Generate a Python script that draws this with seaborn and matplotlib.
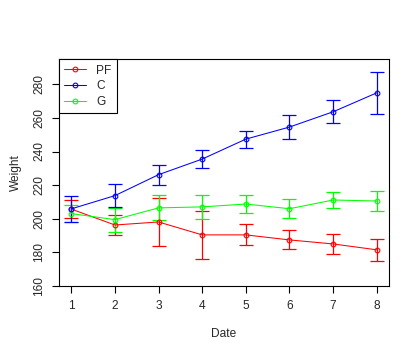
import numpy as np
import pandas as pd
import matplotlib
matplotlib.use('Agg')
import matplotlib.pyplot as plt
import seaborn as sns

dates = [1, 2, 3, 4, 5, 6, 7, 8]
groups = ['PF', 'C', 'G']
colors = {'PF': '#ff0000', 'C': '#0000ff', 'G': '#00ff00'}

pf_mean = [205.7, 196.2, 198.0, 190.3, 190.3, 187.3, 184.9, 181.4]
pf_err = [5.3, 5.9, 14.3, 14.4, 6.2, 5.7, 5.9, 6.5]
c_mean = [205.8, 213.7, 226.2, 235.5, 247.4, 254.6, 263.7, 275.0]
c_err = [7.9, 6.7, 6.0, 5.4, 5.1, 7.4, 6.8, 12.7]
g_mean = [203.0, 199.4, 206.4, 207.0, 208.7, 205.9, 211.1, 210.5]
g_err = [5.1, 7.1, 7.4, 7.1, 5.5, 5.6, 5.0, 5.8]

df = pd.DataFrame({
    'Date': dates * 3,
    'Weight': pf_mean + c_mean + g_mean,
    'err': pf_err + c_err + g_err,
    'Group': ['PF'] * 8 + ['C'] * 8 + ['G'] * 8,
})

sns.set_style('white')
plt.rcParams['font.family'] = ['Liberation Sans', 'DejaVu Sans']
plt.rcParams['font.size'] = 8.6

fig = plt.figure(figsize=(4.2, 3.6), dpi=100)
ax = fig.add_axes([59 / 420, 1 - 285.7 / 360, 330 / 420, 226.4 / 360])

for g in ['PF', 'G', 'C']:
    sub = df[df.Group == g]
    col = colors[g]
    ax.errorbar(sub.Date, sub.Weight, yerr=sub.err, fmt='none', ecolor=col,
                elinewidth=0.9, capsize=5, capthick=0.9, zorder=2)
    sns.lineplot(data=sub, x='Date', y='Weight', color=col, marker='o',
                 mfc='none', mec=col, mew=0.8, ms=3.4, lw=0.75, ax=ax,
                 label=g, zorder=3)

ax.set_xlim(0.72, 8.28)
ax.set_ylim(160, 295)
ax.set_xticks(dates)
ax.set_yticks(np.arange(160, 281, 20))
ax.set_yticklabels([str(v) for v in range(160, 281, 20)], rotation=90, va='center')
ax.tick_params(direction='out', length=5, width=0.8, color='black', pad=5,
               labelsize=8.6, left=True, bottom=True)
for s in ax.spines.values():
    s.set_color('black')
    s.set_linewidth(0.8)
ax.set_xlabel('Date', fontsize=8.6, labelpad=12)
ax.set_ylabel('Weight', fontsize=8.6, labelpad=8)

h, l = ax.get_legend_handles_labels()
order = [l.index(k) for k in groups]
leg = ax.legend([h[i] for i in order], groups, loc='upper left',
                bbox_to_anchor=(0, 1), borderaxespad=0, fancybox=False,
                edgecolor='black', framealpha=1, handlelength=1.85,
                handletextpad=0.8, borderpad=0.45, labelspacing=0.3, fontsize=8.6)
leg.get_frame().set_linewidth(0.8)

fig.savefig('out.png', dpi=100)
